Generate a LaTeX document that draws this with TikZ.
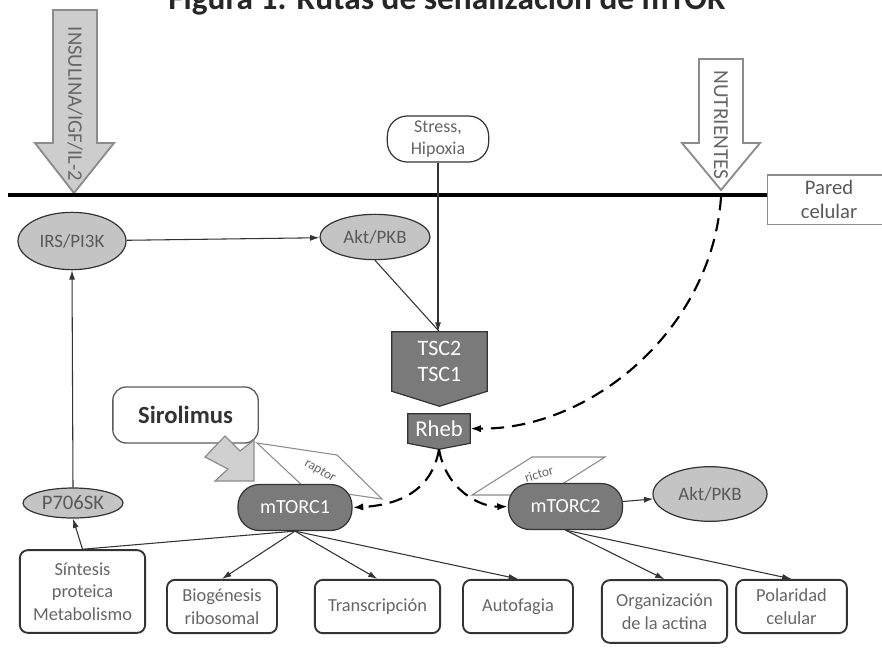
\documentclass[tikz,border=0pt]{standalone}
\usepackage{fontspec}
\setmainfont{Carlito}
\usetikzlibrary{arrows.meta,positioning,shapes.geometric,backgrounds}
\definecolor{ink}{HTML}{333333}
\definecolor{txt}{HTML}{666666}
\definecolor{dark}{HTML}{7A7A7A}
\definecolor{light}{HTML}{C4C4C4}
\definecolor{edge}{HTML}{8C8C8C}

\begin{document}
\begin{tikzpicture}[x=0.75pt, y=-0.75pt, every node/.style={font=\fontsize{13.8}{17}\selectfont, text=txt, align=center}, oval/.style={ellipse, draw=ink, fill=light, line width=0.9pt, inner sep=0pt, font=\fontsize{14.2}{17}\selectfont, text=black!65}, outbox/.style={draw=ink, rounded corners=6pt, line width=1.4pt, fill=white, inner sep=0pt}, cplx/.style={draw=ink, fill=dark, rounded corners=16pt, line width=0.9pt, text=white, font=\fontsize{15}{17}\selectfont, minimum width=85.5pt, minimum height=34.5pt}, arr/.style={-{Latex[length=7pt,width=4.5pt]}, ink, line width=0.8pt}, dsh/.style={-{Latex[length=8pt,width=5.5pt]}, black, line width=1.6pt, dash pattern=on 10pt off 6pt}, bigarrow/.style={draw=edge, line width=1.4pt, line join=miter}, sub/.style={draw=edge, fill=white, line width=0.8pt}]
\useasboundingbox (0,0) rectangle (882,651);
\clip (0,0) rectangle (882,651);
\node[anchor=base, font=\fontsize{25}{28}\selectfont\bfseries, text=black!85] (title) at (447,9) {Figura 1. Rutas de señalización de mTOR};

\filldraw[bigarrow, fill=light!85] (53,10) -- (97,10) -- (97,143) -- (114,143) -- (74,193) -- (35,143) -- (53,143) -- cycle;
\node[rotate=-90, font=\fontsize{15.5}{18}\selectfont] (insulina) at (75,104) {INSULINA/IGF/IL-2};
\filldraw[bigarrow, fill=white] (699,59) -- (743,59) -- (743,143) -- (760,143) -- (721,190) -- (682,143) -- (699,143) -- cycle;
\node[rotate=-90, font=\fontsize{16}{18}\selectfont] (nutrientes) at (721,125) {NUTRIENTES};

\coordinate (memL) at (8,195);
\coordinate (memR) at (768,195);
\coordinate (ntip) at (721,197);
\draw[line width=3pt] (memL) -- (memR);
\node[draw=edge, line width=1pt, minimum width=92pt, minimum height=37pt, font=\fontsize{15.5}{18}\selectfont, text=black!65] (pared) at (829,199.5) {Pared\\celular};

\node[draw=ink, fill=white, rounded corners=15pt, line width=0.9pt, minimum width=76pt, minimum height=34.5pt, inner sep=0pt, font=\fontsize{13.5}{16.5}\selectfont] (stress) at (438,139) {Stress,\\Hipoxia};

\node[oval, minimum width=81pt, minimum height=43pt] (irs) at (72,241) {IRS/PI3K};
\node[oval, minimum width=82.5pt, minimum height=34pt] (akt) at (375,237) {Akt/PKB};
\node[oval, minimum width=85.5pt, minimum height=41pt] (akt2) at (710,494) {Akt/PKB};
\node[oval, minimum width=75pt, minimum height=22.5pt, font=\fontsize{15.5}{17}\selectfont] (p70) at (73,503) {P706SK};

\node[minimum width=71.25pt, minimum height=44.25pt, inner sep=0pt, text=white, font=\fontsize{16.5}{20}\selectfont] (tsc) at (439.5,361.5) {TSC2\\TSC1};
\node[minimum width=46.5pt, minimum height=21.75pt, inner sep=0pt, text=white, font=\fontsize{17}{18}\selectfont] (rheb) at (439,428.5) {Rheb};
\coordinate (rhebtip) at ([yshift=-4.5pt]rheb.south);
\begin{scope}[on background layer]
\filldraw[draw=ink, fill=dark, line width=0.9pt] (tsc.north west) -- (tsc.north east) -- (tsc.south east) -- ([yshift=-11.25pt]tsc.south) -- (tsc.south west) -- cycle;
\filldraw[draw=ink, fill=dark, line width=0.9pt] (rheb.north west) -- (rheb.north east) -- (rheb.south east) -- (rhebtip) -- (rheb.south west) -- cycle;
\end{scope}

\node[draw=ink!80, fill=white, rounded corners=10pt, line width=1pt, minimum width=109pt, minimum height=42pt, font=\fontsize{18.5}{20}\selectfont\bfseries, text=black!80] (siro) at (185.5,415) {Sirolimus};
\filldraw[draw=edge, fill=light!80, line width=0.9pt] (205,457) -- (225,436) -- (240,451) -- (254,440) -- (254,481) -- (215,481) -- (228,469) -- cycle;
\filldraw[sub] (257,443) -- (337,455) -- (382,499) -- (305,488) -- cycle;
\node[rotate=-31, font=\fontsize{10}{10}\selectfont] (raptor) at (320,471) {raptor};
\filldraw[sub] (472,495) -- (532,457) -- (605,457) -- (545,495) -- cycle;
\node[rotate=17, font=\fontsize{10}{10}\selectfont] (rictor) at (539,474) {rictor};

\node[cplx] (mtorc1) at (295,507.5) {mTORC1};
\node[cplx] (mtorc2) at (565.5,506.5) {mTORC2};

\node[outbox, minimum width=94pt, minimum height=62pt] (sintesis) at (82.5,591.5) {Síntesis\\proteica\\Metabolismo};
\node[outbox, minimum width=82.5pt, minimum height=40pt] (biog) at (222,606.5) {Biogénesis\\ribosomal};
\node[outbox, minimum width=94pt, minimum height=40pt] (trans) at (377.5,606.5) {Transcripción};
\node[outbox, minimum width=82.5pt, minimum height=40pt] (auto) at (518,606.5) {Autofagia};
\node[outbox, minimum width=94pt, minimum height=47pt] (organ) at (664.5,611.5) {Organización\\de la actina};
\node[outbox, minimum width=83pt, minimum height=40pt] (polar) at (791.5,606.5) {Polaridad\\celular};

\draw[arr] (stress.south) -- (stress.south |- tsc.north);
\draw[ink, line width=0.8pt] (akt.south) -- (tsc.north);
\draw[arr] (irs) -- (akt);
\draw[arr] (p70.north) -- (irs.south);
\draw[arr] (sintesis.north) -- (p70.south);
\draw[ink, line width=0.8pt] (mtorc1.south) -- (sintesis.north);
\draw[arr] (mtorc1.south) -- (biog.north);
\draw[arr] (mtorc1.south) -- (trans.north);
\draw[arr] (mtorc1.south) -- (auto.north);
\draw[arr] (mtorc2.south) -- (organ.north);
\draw[arr] (mtorc2.south) -- (polar.north);
\draw[arr] (mtorc2) -- (akt2);
\draw[dsh] (ntip) .. controls (712,330) and (590,430) .. (rheb.east);
\draw[dsh] (rhebtip) .. controls (432,490) and (400,505) .. (mtorc1.east);
\draw[dsh] (rhebtip) .. controls (446,490) and (480,507) .. (mtorc2.west);
\end{tikzpicture}
\end{document}
